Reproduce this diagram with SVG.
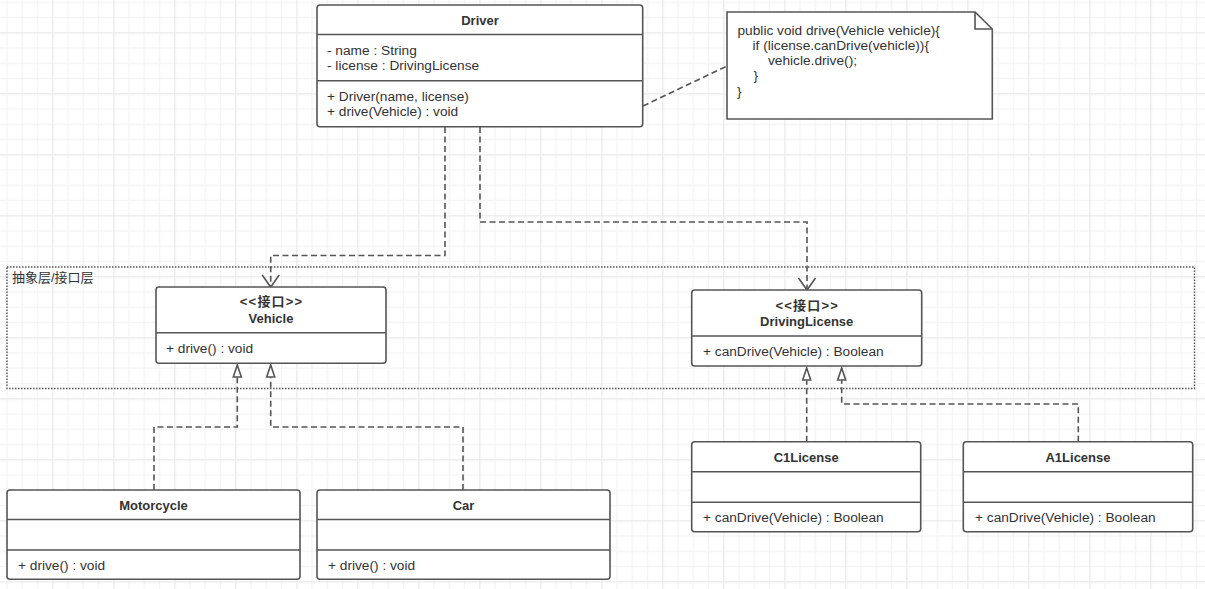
<svg xmlns="http://www.w3.org/2000/svg" width="1205" height="589" viewBox="0 0 1205 589">
<style>
.box{fill:#fff;stroke:#555;stroke-width:1.6}
.sep{stroke:#555;stroke-width:1.6}
.t{font-family:"Liberation Sans","Noto Sans CJK SC",sans-serif;font-size:13.7px;fill:#333}
.b{font-family:"Liberation Sans","Noto Sans CJK SC",sans-serif;font-size:13px;font-weight:bold;fill:#333;text-anchor:middle}
.st{font-family:"Liberation Sans","Noto Sans CJK SC",sans-serif;font-size:13px;font-weight:600;letter-spacing:1.2px;fill:#333;text-anchor:middle}
.dash{fill:none;stroke:#555;stroke-width:1.6;stroke-dasharray:6 3.5}
</style>
<defs>
<pattern id="grid" x="52.2" y="32.2" width="61" height="61" patternUnits="userSpaceOnUse">
<rect x="15.25" y="0" width="1.2" height="61" fill="#f3f3f3"/>
<rect x="30.5" y="0" width="1.2" height="61" fill="#f3f3f3"/>
<rect x="45.75" y="0" width="1.2" height="61" fill="#f3f3f3"/>
<rect x="0" y="15.25" width="61" height="1.2" fill="#f3f3f3"/>
<rect x="0" y="30.5" width="61" height="1.2" fill="#f3f3f3"/>
<rect x="0" y="45.75" width="61" height="1.2" fill="#f3f3f3"/>
<rect x="0" y="0" width="1.4" height="61" fill="#ebebeb"/>
<rect x="0" y="0" width="61" height="1.4" fill="#ebebeb"/>
</pattern>
<marker id="open" markerUnits="userSpaceOnUse" markerWidth="30" markerHeight="30" viewBox="-15 -15 30 30" refX="0" refY="0" orient="auto" overflow="visible">
<path d="M-12,-8.5 L0,0 L-12,8.5" fill="none" stroke="#555" stroke-width="1.6"/>
</marker>
<marker id="tri" markerUnits="userSpaceOnUse" markerWidth="30" markerHeight="30" viewBox="-15 -15 30 30" refX="0" refY="0" orient="auto" overflow="visible">
<path d="M0,0 L-12,-4 L-12,4 Z" fill="#fff" stroke="#555" stroke-width="1.6"/>
</marker>
</defs>
<rect width="1205" height="589" fill="#fff"/>
<rect width="1205" height="589" fill="url(#grid)"/>

<g id="frame">
<rect x="7" y="267" width="1187.5" height="121.5" fill="none" stroke="#555" stroke-width="1.4" stroke-dasharray="1.5 1.5"/>
<text x="12" y="282" font-family="'Liberation Sans','Noto Sans CJK SC',sans-serif" font-size="13" fill="#333">抽象层/接口层</text>
</g>

<g id="connectors">
<path class="dash" d="M445,127 V255.5 H270.7 V287" marker-end="url(#open)"/>
<path class="dash" d="M480,127 V222 H807 V290" marker-end="url(#open)"/>
<path class="dash" d="M154,490 V427 H237.3 V365" marker-end="url(#tri)"/>
<path class="dash" d="M463,490 V427 H270.7 V365" marker-end="url(#tri)"/>
<path class="dash" d="M806.7,441.7 V368" marker-end="url(#tri)"/>
<path class="dash" d="M1078.3,441.7 V404 H841.7 V368" marker-end="url(#tri)"/>
<path class="dash" d="M643,106 L727,66"/>
</g>

<g id="Driver">
<rect class="box" x="317" y="5" width="325.7" height="121.7" rx="3"/>
<line class="sep" x1="317" y1="34.5" x2="642.7" y2="34.5"/>
<line class="sep" x1="317" y1="80.7" x2="642.7" y2="80.7"/>
<text class="b" x="480" y="25">Driver</text>
<text class="t" x="327" y="55">- name : String</text>
<text class="t" x="327" y="70">- license : DrivingLicense</text>
<text class="t" x="327" y="101">+ Driver(name, license)</text>
<text class="t" x="327" y="116">+ drive(Vehicle) : void</text>
</g>

<g id="Note">
<path d="M727,12 H975 L992.3,29 V119 H727 Z" fill="#fff" stroke="#555" stroke-width="1.6"/>
<path d="M975,12 V29 H992.3" fill="none" stroke="#555" stroke-width="1.6"/>
<text class="t" x="737.5" y="35">public void drive(Vehicle vehicle){</text>
<text class="t" x="752.5" y="50">if (license.canDrive(vehicle)){</text>
<text class="t" x="768" y="65">vehicle.drive();</text>
<text class="t" x="753.5" y="80">}</text>
<text class="t" x="737" y="96">}</text>
</g>

<g id="Vehicle">
<rect class="box" x="156" y="287" width="230" height="76.3" rx="3"/>
<line class="sep" x1="156" y1="332.7" x2="386" y2="332.7"/>
<text class="st" x="271.6" y="306">&lt;&lt;接口&gt;&gt;</text>
<text class="b" x="271" y="322.5">Vehicle</text>
<text class="t" x="166" y="352.5">+ drive() : void</text>
</g>

<g id="DrivingLicense">
<rect class="box" x="691.7" y="290" width="230" height="76" rx="3"/>
<line class="sep" x1="691.7" y1="336" x2="921.7" y2="336"/>
<text class="st" x="807.3" y="309.5">&lt;&lt;接口&gt;&gt;</text>
<text class="b" x="806.7" y="326">DrivingLicense</text>
<text class="t" x="703" y="355.5">+ canDrive(Vehicle) : Boolean</text>
</g>

<g id="Motorcycle">
<rect class="box" x="7" y="490" width="293" height="89.3" rx="3"/>
<line class="sep" x1="7" y1="519.5" x2="300" y2="519.5"/>
<line class="sep" x1="7" y1="550" x2="300" y2="550"/>
<text class="b" x="153.5" y="510">Motorcycle</text>
<text class="t" x="18" y="570">+ drive() : void</text>
</g>

<g id="Car">
<rect class="box" x="317" y="490" width="293" height="89.3" rx="3"/>
<line class="sep" x1="317" y1="519.5" x2="610" y2="519.5"/>
<line class="sep" x1="317" y1="550" x2="610" y2="550"/>
<text class="b" x="463.5" y="510">Car</text>
<text class="t" x="328" y="570">+ drive() : void</text>
</g>

<g id="C1License">
<rect class="box" x="691.7" y="441.7" width="229" height="90" rx="3"/>
<line class="sep" x1="691.7" y1="471.7" x2="920.7" y2="471.7"/>
<line class="sep" x1="691.7" y1="502.3" x2="920.7" y2="502.3"/>
<text class="b" x="806.2" y="462">C1License</text>
<text class="t" x="703" y="522">+ canDrive(Vehicle) : Boolean</text>
</g>

<g id="A1License">
<rect class="box" x="963.3" y="441.7" width="229.4" height="90" rx="3"/>
<line class="sep" x1="963.3" y1="471.7" x2="1192.7" y2="471.7"/>
<line class="sep" x1="963.3" y1="502.3" x2="1192.7" y2="502.3"/>
<text class="b" x="1078" y="462">A1License</text>
<text class="t" x="975" y="522">+ canDrive(Vehicle) : Boolean</text>
</g>
</svg>
